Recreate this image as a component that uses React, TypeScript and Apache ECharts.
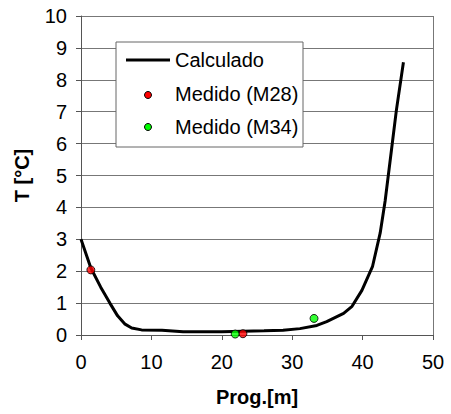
import React, { useEffect, useRef } from "react";
import * as echarts from "echarts";

const calcX = [0, 1.4, 2.8, 4.1, 5.2, 6.2, 7.2, 8.6, 11.5, 14.5, 20, 26, 28.7, 31.1, 33.5, 34.9, 37.3, 38.5, 39.9, 41.4, 42.5, 43.2, 44.1, 44.8, 45.8];
const calcY = [3.0, 2.1, 1.5, 1.0, 0.6, 0.35, 0.22, 0.16, 0.15, 0.1, 0.1, 0.13, 0.15, 0.2, 0.3, 0.42, 0.68, 0.9, 1.4, 2.14, 3.2, 4.2, 5.8, 7.05, 8.55];
const m28X = [1.4, 23.0];
const m28Y = [2.04, 0.04];
const m34X = [21.9, 33.1];
const m34Y = [0.03, 0.52];
const legendNames = ["Calculado", "Medido (M28)", "Medido (M34)"];
const xTitle = "Prog.[m]";
const yTitle = "T [°C]";

const FONT = "Liberation Sans, Arial, sans-serif";
const FS = 20;

export default function App() {
  const ref = useRef<HTMLDivElement>(null);
  useEffect(() => {
    if (!ref.current) return;
    const chart = echarts.init(ref.current, undefined, { renderer: "svg" });
    const zip = (xs: number[], ys: number[]) => xs.map((x, i) => [x, ys[i]]);
    chart.setOption({
      animation: false,
      backgroundColor: "#ffffff",
      textStyle: { fontFamily: FONT },
      grid: { left: 81, right: 18, top: 16, bottom: 79 },
      xAxis: {
        type: "value",
        min: 0,
        max: 50,
        interval: 10,
        name: xTitle,
        nameLocation: "middle",
        nameGap: 52,
        nameTextStyle: { fontSize: FS, fontWeight: "bold", color: "#000", fontFamily: FONT },
        axisLine: { show: true, onZero: false, lineStyle: { color: "#555", width: 1 } },
        axisTick: { show: true, inside: false, length: 5, lineStyle: { color: "#555" } },
        axisLabel: { fontSize: FS, color: "#000", margin: 17, fontFamily: FONT },
        splitLine: { show: false },
      },
      yAxis: {
        type: "value",
        min: 0,
        max: 10,
        interval: 1,
        name: yTitle,
        nameLocation: "middle",
        nameGap: 49,
        nameTextStyle: { fontSize: FS, fontWeight: "bold", color: "#000", fontFamily: FONT },
        axisLine: { show: true, lineStyle: { color: "#555", width: 1 } },
        axisTick: { show: true, length: 5, lineStyle: { color: "#555" } },
        axisLabel: { fontSize: FS, color: "#000", margin: 14, fontFamily: FONT },
        splitLine: { show: true, lineStyle: { color: "#777", width: 1 } },
      },
      series: [
        {
          name: legendNames[0],
          type: "line",
          data: zip(calcX, calcY),
          showSymbol: false,
          symbol: "none",
          smooth: false,
          lineStyle: { color: "#000", width: 3 },
          z: 2,
        },
        {
          name: legendNames[1],
          type: "scatter",
          data: zip(m28X, m28Y),
          symbol: "circle",
          symbolSize: 8,
          itemStyle: { color: "#ff0000", borderColor: "#000", borderWidth: 1 },
          z: 3,
        },
        {
          name: legendNames[2],
          type: "scatter",
          data: zip(m34X, m34Y),
          symbol: "circle",
          symbolSize: 8,
          itemStyle: { color: "#00ff00", borderColor: "#000", borderWidth: 1 },
          z: 3,
        },
      ],
      graphic: [
        { type: "line", shape: { x1: 433.5, y1: 16, x2: 433.5, y2: 335 }, style: { stroke: "#777", lineWidth: 1 }, z: 1 },
        {
          type: "rect",
          shape: { x: 116, y: 42, width: 187, height: 105 },
          style: { fill: "#fff", stroke: "#666", lineWidth: 1 },
          z: 10,
        },
        { type: "line", shape: { x1: 126, y1: 60, x2: 170, y2: 60 }, style: { stroke: "#000", lineWidth: 3 }, z: 11 },
        { type: "circle", shape: { cx: 148, cy: 95, r: 3.5 }, style: { fill: "#ff0000", stroke: "#000", lineWidth: 1 }, z: 11 },
        { type: "circle", shape: { cx: 148, cy: 127, r: 3.5 }, style: { fill: "#00ff00", stroke: "#000", lineWidth: 1 }, z: 11 },
        { type: "text", x: 175, y: 60, style: { text: legendNames[0], fontSize: FS, fill: "#000", fontFamily: FONT, verticalAlign: "middle" }, z: 11 },
        { type: "text", x: 175, y: 94, style: { text: legendNames[1], fontSize: FS, fill: "#000", fontFamily: FONT, verticalAlign: "middle" }, z: 11 },
        { type: "text", x: 175, y: 127, style: { text: legendNames[2], fontSize: FS, fill: "#000", fontFamily: FONT, verticalAlign: "middle" }, z: 11 },
      ],
    });
    return () => chart.dispose();
  }, []);
  return <div ref={ref} style={{ position: "fixed", left: 0, top: 0, width: 451, height: 414 }} />;
}
